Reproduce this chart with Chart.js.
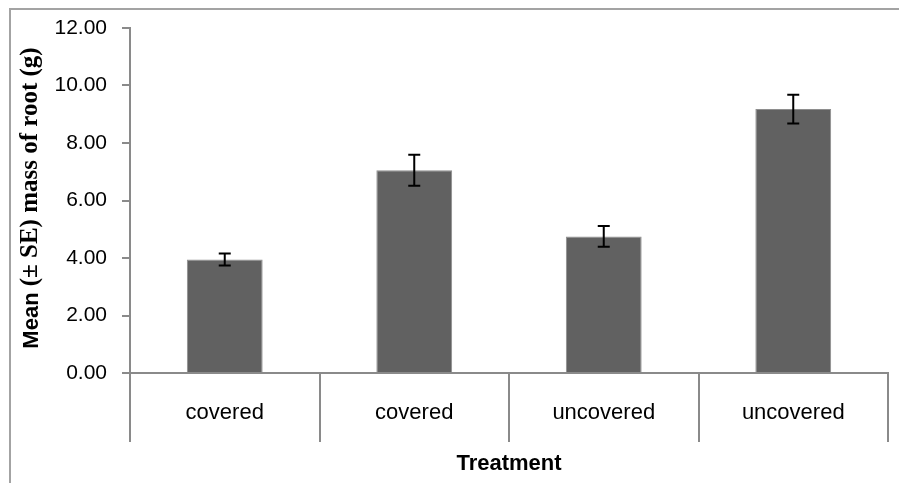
<!DOCTYPE html>
<html>
<head>
<meta charset="utf-8">
<script src="https://cdn.jsdelivr.net/npm/chart.js@4"></script>
<style>
  body { margin: 0; background: #fff; }
  #wrap { width: 899px; height: 483px; }
</style>
</head>
<body>
<div id="wrap"><canvas id="rootChart" width="899" height="483"></canvas></div>
<script>
// data
const treatments = ['covered', 'covered', 'uncovered', 'uncovered'];
const meanRoot = [3.95, 7.05, 4.75, 9.18];
const seRoot = [0.21, 0.54, 0.36, 0.50];
const yMin = 0, yMax = 12, yStep = 2;

const axisGrey = '#8a8a8a';

// outer frame (top + left edges visible in the original crop)
const framePlugin = {
  id: 'frame',
  beforeDraw(chart) {
    const c = chart.ctx;
    c.save();
    c.strokeStyle = '#a3a3a3';
    c.lineWidth = 2;
    c.beginPath();
    c.moveTo(10, 483);
    c.lineTo(10, 9);
    c.lineTo(899, 9);
    c.stroke();
    c.restore();
  }
};

// error bars from seRoot
const errorBars = {
  id: 'errorBars',
  afterDatasetsDraw(chart) {
    const c = chart.ctx;
    const y = chart.scales.y;
    const meta = chart.getDatasetMeta(0);
    c.save();
    c.strokeStyle = '#000';
    c.lineWidth = 2;
    meta.data.forEach((bar, i) => {
      const top = y.getPixelForValue(meanRoot[i] + seRoot[i]);
      const bot = y.getPixelForValue(meanRoot[i] - seRoot[i]);
      const x = bar.x;
      c.beginPath();
      c.moveTo(x, top); c.lineTo(x, bot);
      c.moveTo(x - 6, top); c.lineTo(x + 6, top);
      c.moveTo(x - 6, bot); c.lineTo(x + 6, bot);
      c.stroke();
    });
    c.restore();
  }
};

// y title with mixed fonts, like the original
const yTitle = {
  id: 'yTitle',
  afterDraw(chart) {
    const c = chart.ctx;
    const part1 = 'Mean ';
    const part2 = '(\u00b1 SE) mass of root (g)';
    const f1 = 'bold 22px "Liberation Sans", Arial, sans-serif';
    const f2 = 'bold 25px "Liberation Serif", "Times New Roman", serif';
    c.save();
    c.font = f1;
    const w1 = c.measureText(part1).width;
    c.font = f2;
    const w2 = c.measureText(part2).width;
    c.translate(31, 198);
    c.rotate(-Math.PI / 2);
    c.fillStyle = '#000';
    c.textBaseline = 'middle';
    c.textAlign = 'left';
    const start = -(w1 + w2) / 2;
    c.font = f1;
    c.fillText(part1, start, 1);
    c.font = f2;
    c.fillText(part2, start + w1, 0);
    c.restore();
  }
};

const ctx = document.getElementById('rootChart').getContext('2d');

new Chart(ctx, {
  type: 'bar',
  data: {
    labels: treatments,
    datasets: [{
      data: meanRoot,
      backgroundColor: '#616161',
      borderColor: '#8e8e8e',
      borderWidth: 1,
      barPercentage: 0.4,
      categoryPercentage: 1.0
    }]
  },
  options: {
    responsive: false,
    animation: false,
    layout: { padding: { top: 28, right: 11, left: 0, bottom: 0 } },
    plugins: {
      legend: { display: false },
      tooltip: { enabled: false }
    },
    scales: {
      x: {
        grid: {
          offset: true,
          drawOnChartArea: false,
          drawTicks: true,
          tickLength: 69,
          color: axisGrey,
          lineWidth: 2
        },
        border: { color: axisGrey, width: 2 },
        ticks: {
          color: '#000',
          padding: -42,
          font: { family: '"Liberation Sans", Arial, sans-serif', size: 22 }
        },
        title: {
          display: true,
          text: 'Treatment',
          color: '#000',
          padding: { top: 0, bottom: 6 },
          font: { family: '"Liberation Sans", Arial, sans-serif', size: 22, weight: 'bold' }
        },
        afterFit(scale) { scale.height = 110; }
      },
      y: {
        min: yMin,
        max: yMax,
        grid: {
          drawOnChartArea: false,
          drawTicks: true,
          tickLength: 8,
          color: axisGrey,
          lineWidth: 2
        },
        border: { color: axisGrey, width: 2 },
        ticks: {
          stepSize: yStep,
          color: '#000',
          padding: 15,
          font: { family: '"Liberation Sans", Arial, sans-serif', size: 21 },
          callback: v => v.toFixed(2)
        },
        afterFit(scale) { scale.width = 130; }
      }
    }
  },
  plugins: [framePlugin, errorBars, yTitle]
});
</script>
</body>
</html>
